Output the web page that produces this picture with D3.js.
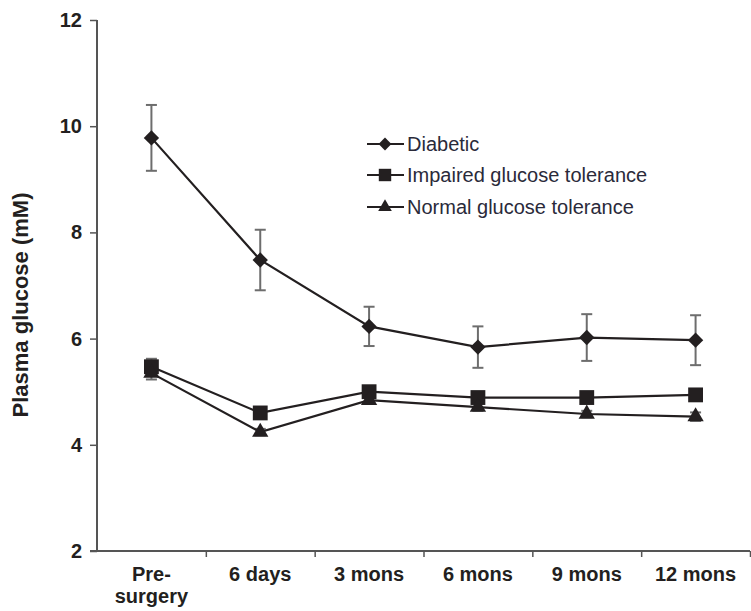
<!DOCTYPE html>
<html>
<head>
<meta charset="utf-8">
<script src="https://cdn.jsdelivr.net/npm/d3@7"></script>
<style>
  html, body { margin: 0; padding: 0; background: #fff; }
  svg { display: block; font-family: "Liberation Sans", Arial, sans-serif; }
</style>
</head>
<body>
<svg id="chart" width="751" height="611"></svg>
<script>
// Time points after surgery
const categories = ["Pre-surgery", "6 days", "3 mons", "6 mons", "9 mons", "12 mons"];
const categoryLabels = [["Pre-", "surgery"], ["6 days"], ["3 mons"], ["6 mons"], ["9 mons"], ["12 mons"]];

// Plasma glucose (mM), mean and standard error per group
const diabeticMean = [9.78, 7.48, 6.23, 5.84, 6.02, 5.97];
const diabeticErr  = [0.62, 0.57, 0.37, 0.39, 0.44, 0.47];
const igtMean = [5.47, 4.60, 5.00, 4.89, 4.89, 4.94];
const igtErr  = [0.15, 0.08, 0.08, 0.07, 0.07, 0.10];
const ngtMean = [5.35, 4.24, 4.84, 4.71, 4.58, 4.53];
const ngtErr  = [0.12, 0.06, 0.06, 0.07, 0.06, 0.08];

const seriesNames = ["Diabetic", "Impaired glucose tolerance", "Normal glucose tolerance"];
const yTicks = [2, 4, 6, 8, 10, 12];

const series = [
  { name: seriesNames[0], mean: diabeticMean, err: diabeticErr, symbol: d3.symbolDiamond2, size: 150 },
  { name: seriesNames[1], mean: igtMean, err: igtErr, symbol: d3.symbolSquare, size: 220 },
  { name: seriesNames[2], mean: ngtMean, err: ngtErr, symbol: d3.symbolTriangle, size: 115 }
];

const svg = d3.select("#chart");
const plotLeft = 97, plotRight = 750, plotTop = 20, plotBottom = 551;

const x = d3.scaleBand().domain(categories).range([plotLeft, plotRight]);
const xEdge = d3.scaleLinear().domain([0, categories.length]).range([plotLeft, plotRight]);
const y = d3.scaleLinear().domain([2, 12]).range([plotBottom, plotTop]);

const axisColor = "#555";
const inkColor = "#231f20";

// Y axis
const yAxis = svg.append("g")
  .attr("transform", `translate(${plotLeft},0)`)
  .call(d3.axisLeft(y).tickValues(yTicks).tickSize(7).tickPadding(8).tickFormat(d3.format("d")));
yAxis.select(".domain").attr("stroke", axisColor).attr("stroke-width", 2).attr("d", `M0,${plotTop}V${plotBottom}`);
yAxis.selectAll(".tick line").attr("stroke", axisColor).attr("stroke-width", 1.5);
yAxis.selectAll(".tick text")
  .attr("font-size", 20).attr("font-weight", "bold").attr("fill", inkColor)
  .attr("font-family", "Liberation Sans, Arial, sans-serif");

// X axis: ticks sit on the category boundaries
const xAxis = svg.append("g")
  .attr("transform", `translate(0,${plotBottom})`)
  .call(d3.axisBottom(xEdge).tickValues(d3.range(1, categories.length + 1)).tickSize(6).tickFormat(""));
xAxis.select(".domain").attr("stroke", axisColor).attr("stroke-width", 2).attr("d", `M${plotLeft - 7},0H${plotRight}`);
xAxis.selectAll(".tick line").attr("stroke", axisColor).attr("stroke-width", 1.5);

// Category labels
const labelG = svg.append("g");
categories.forEach((c, i) => {
  const t = labelG.append("text")
    .attr("x", x(c) + x.bandwidth() / 2)
    .attr("y", 581)
    .attr("text-anchor", "middle")
    .attr("font-size", 20).attr("font-weight", "bold").attr("fill", inkColor);
  categoryLabels[i].forEach((line, j) => {
    t.append("tspan").attr("x", x(c) + x.bandwidth() / 2).attr("dy", j === 0 ? 0 : 22).text(line);
  });
});

// Y axis title
svg.append("text")
  .attr("transform", "translate(28,305) rotate(-90)")
  .attr("text-anchor", "middle")
  .attr("font-size", 22).attr("font-weight", "bold").attr("fill", inkColor)
  .text("Plasma glucose (mM)");

const cx = (i) => x(categories[i]) + x.bandwidth() / 2;

// Error bars
const capHalf = 5.5;
series.forEach(s => {
  const g = svg.append("g").attr("stroke", "#6d6d6d").attr("stroke-width", 2);
  s.mean.forEach((m, i) => {
    const hi = y(m + s.err[i]), lo = y(m - s.err[i]);
    g.append("line").attr("x1", cx(i)).attr("x2", cx(i)).attr("y1", hi).attr("y2", lo);
    g.append("line").attr("x1", cx(i) - capHalf).attr("x2", cx(i) + capHalf).attr("y1", hi).attr("y2", hi);
    g.append("line").attr("x1", cx(i) - capHalf).attr("x2", cx(i) + capHalf).attr("y1", lo).attr("y2", lo);
  });
});

// Lines and markers
const line = d3.line().x((d, i) => cx(i)).y(d => y(d));
series.forEach(s => {
  svg.append("path")
    .attr("d", line(s.mean))
    .attr("fill", "none").attr("stroke", inkColor).attr("stroke-width", 2.2);
  svg.append("g").selectAll("path")
    .data(s.mean)
    .join("path")
    .attr("transform", (d, i) => `translate(${cx(i)},${y(d)})`)
    .attr("d", d3.symbol().type(s.symbol).size(s.size))
    .attr("fill", inkColor);
});

// Legend
const legendRows = [144, 175, 207];
const legend = svg.append("g");
series.forEach((s, k) => {
  const ly = legendRows[k];
  legend.append("line").attr("x1", 367).attr("x2", 404).attr("y1", ly).attr("y2", ly)
    .attr("stroke", inkColor).attr("stroke-width", 2);
  legend.append("path")
    .attr("transform", `translate(385,${ly})`)
    .attr("d", d3.symbol().type(s.symbol).size(s.size * 0.7))
    .attr("fill", inkColor);
  legend.append("text")
    .attr("x", 407).attr("y", ly).attr("dy", "0.35em")
    .attr("font-size", 20).attr("fill", "#2a2a3a")
    .text(s.name);
});
</script>
</body>
</html>
